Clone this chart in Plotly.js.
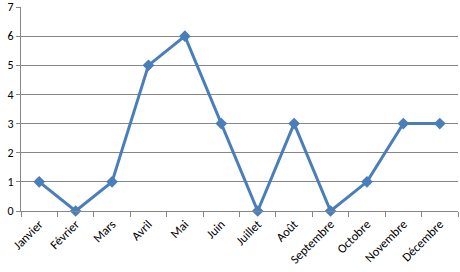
<!DOCTYPE html>
<html><head><meta charset="utf-8">
<script src="https://cdn.plot.ly/plotly-3.0.1.min.js"></script>
<style>html,body{margin:0;padding:0;background:#fff}#c{width:460px;height:272px}</style>
</head><body><div id="c"></div>
<script>
var months = ["Janvier","Février","Mars","Avril","Mai","Juin","Juillet","Août","Septembre","Octobre","Novembre","Décembre"];
var values = [1,0,1,5,6,3,0,3,0,1,3,3];
var yTicks = [0,1,2,3,4,5,6,7];

var trace = {
  x: months, y: values, type: "scatter", mode: "lines+markers",
  line: {color: "#4A7EBB", width: 3},
  marker: {symbol: "diamond", size: 9, color: "#4A7EBB"},
  cliponaxis: false, hoverinfo: "none"
};
var layout = {
  width: 460, height: 272, autosize: false,
  margin: {l: 21, r: 2, t: 7, b: 61, pad: 0, autoexpand: false},
  paper_bgcolor: "#fff", plot_bgcolor: "#fff",
  font: {family: "Carlito, 'Liberation Sans', sans-serif", size: 12, color: "#000"},
  showlegend: false,
  xaxis: {
    type: "category", range: [-0.5, months.length - 0.5],
    tickson: "boundaries", ticks: "outside", ticklen: 5, tickcolor: "#868686",
    showline: true, linecolor: "#868686", linewidth: 1, showgrid: false,
    tickangle: -45, tickfont: {size: 12.5}, fixedrange: true, automargin: false,
    ticklabeloverflow: "allow"
  },
  yaxis: {
    range: [0, 7], tickvals: yTicks, ticks: "outside", ticklen: 4, tickcolor: "#868686",
    showline: true, linecolor: "#868686", linewidth: 1,
    showgrid: true, gridcolor: "#868686", gridwidth: 1, zeroline: false,
    tickfont: {size: 12}, fixedrange: true, automargin: false,
    ticklabeloverflow: "allow"
  }
};
Plotly.newPlot("c", [trace], layout, {displayModeBar: false, staticPlot: true});
</script></body></html>
